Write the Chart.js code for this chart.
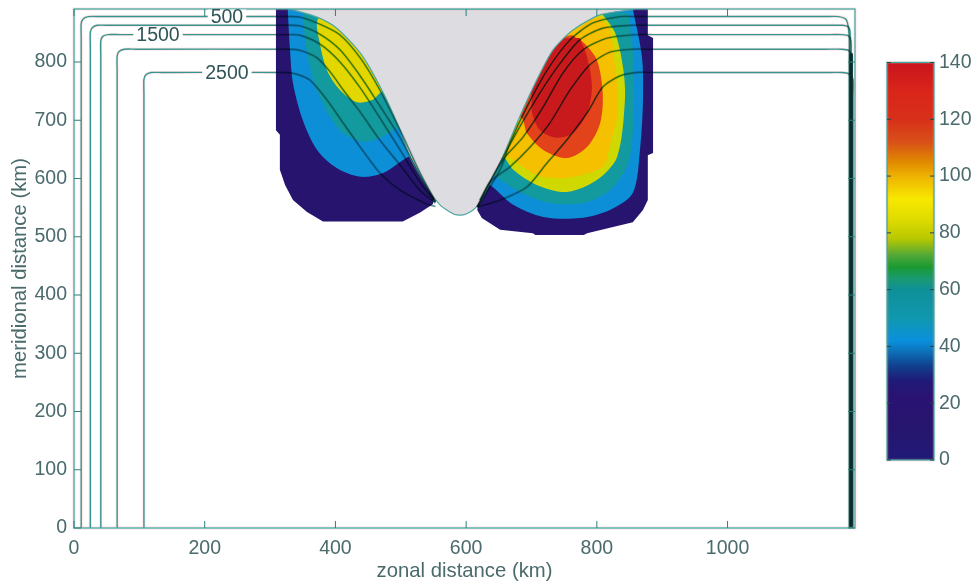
<!DOCTYPE html>
<html>
<head>
<meta charset="utf-8">
<title>meridional distance</title>
<script src="https://cdn.jsdelivr.net/npm/chart.js@4"></script>
<style>
  body { margin: 0; background: #fff; }
  #fieldChart { position: absolute; left: 0; top: 0; }
  #colorbarChart { position: absolute; left: 850px; top: 0; }
</style>
</head>
<body>
<canvas id="fieldChart" width="974" height="584"></canvas>
<canvas id="colorbarChart" width="124" height="584"></canvas>
<script>
// all shapes are [zonal km, meridional km]
const xTicks = [0, 200, 400, 600, 800, 1000];
const yTicks = [0, 100, 200, 300, 400, 500, 600, 700, 800];
const colorbarTicks = [0, 20, 40, 60, 80, 100, 120, 140];

const colorbarValues = [0, 10, 22, 28, 33, 38, 42, 50, 60, 64, 68, 72, 78, 85, 92, 100, 105, 112, 120, 130, 140];
const colorbarColors = ["#1f1a78", "#26166f", "#2a1272", "#201a78", "#103f8c", "#0d6fb8", "#0a90dc", "#1098b0", "#0f9098", "#1a9a70", "#1a9a30", "#50a838", "#b8c800", "#e0dc00", "#f8e800", "#eeb200", "#e08a00", "#d85018", "#d8301a", "#d9251a", "#c8141c"];

const leftNavy = [[309, 891], [309, 683], [315, 675], [315, 615], [323, 589], [335, 563], [356.5, 542.6], [381, 526], [503, 526], [529, 541], [549, 556], [580, 700], [450, 891]];
const leftBlue = [[327, 891], [330.5, 821], [335, 764], [350, 700.5], [372, 649], [402, 618], [438, 603], [473, 609.5], [511, 637], [525, 640], [560, 720], [450, 891]];
const leftTeal = [[350, 891], [353, 843], [361, 791], [376, 740], [407, 683], [442, 663], [468, 670], [499, 688.5], [515, 690], [540, 760], [450, 891]];
const leftYellow = [[385, 885], [372, 870], [376, 833], [387, 786], [407, 752], [433, 731], [457, 735], [471, 749], [490, 750], [520, 800], [440, 860]];

const rightNavy = [[617, 546], [624, 532], [652, 512], [702, 506], [706, 503], [780, 503], [785, 506], [855, 525], [870.6, 546], [878, 563], [878, 640], [886, 644], [886, 841], [878, 846], [878, 891], [780, 891], [640, 700]];
const rightBlue = [[855, 891], [869, 809], [870.6, 735], [866, 649], [855, 575], [820, 546], [774, 532], [718, 534], [672, 555], [636.5, 589], [621, 594], [640, 720], [740, 891]];
const rightTeal = [[848, 884], [855, 821], [857, 735], [854, 666], [846, 620], [820, 580], [779, 558], [728, 558], [682, 577], [649, 601], [633, 615], [640, 720], [740, 885]];
const rightLime = [[809, 881], [828, 850], [840, 791.5], [843, 735], [831, 637], [800, 597.5], [754, 577], [708, 589], [672, 615], [659, 635], [644, 649], [650, 720], [740, 875]];
const rightGold = [[805, 877], [820, 855], [828, 791.5], [831, 757], [831, 706], [820, 658], [809, 620], [754, 601], [708, 606], [672, 632], [652, 649], [650, 720], [730, 865]];
const rightOrange = [[762, 846.5], [779, 834], [800, 803.5], [809, 747], [805, 695], [785, 654], [754, 635], [718, 649], [693, 678], [685, 704], [660, 710], [700, 830]];
const rightRed = [[774, 841], [785, 809], [792.5, 757], [785, 712.5], [763.5, 678], [739, 670], [713, 683], [701, 712.5], [698, 749], [670, 750], [710, 840]];

const gully = [[330.5, 891], [372, 877], [402, 858], [438, 815.5], [471, 752], [499, 683], [514, 637], [540, 585.5], [560, 554.6], [575, 542.6], [586, 537.4], [600, 539], [617, 553], [636.5, 592], [656, 637], [682, 706], [708, 769], [733, 821], [763.5, 855], [805, 881], [855, 891], [330.5, 891]];

// null splits a contour where it runs into the gully edge
const contour500 = [[11, 0], [11, 840], [11, 866], [14, 874], [22, 878], [40, 878], [330, 878], [346, 877], [376, 865], [407, 846.5], [438, 807], [468, 752], [499, 683], [529, 611], [553, 560], [586, null], [617, 551], [652, 615], [667, 661], [693, 723], [724, 786], [759, 838], [794, 867], [835, 878], [860, 878], [1150, 878], [1170, 878], [1182, 872], [1186, 845], [1186, 800], [1186, 0]];
const contour1000 = [[25, 0], [25, 825], [25, 851], [28, 859], [36, 863], [55, 863], [330, 863], [346, 862], [376, 848], [407, 821], [438, 776], [468, 724.6], [499, 670], [529, 606], [553, 560], [586, null], [617, 551], [652, 627], [682, 688.5], [713, 747], [744, 798], [774, 838], [809, 858], [855, 863], [880, 863], [1150, 863], [1175, 863], [1185, 860], [1187.5, 850], [1187.5, 800], [1187.5, 0]];
const contour1500 = [[41, 0], [41, 810], [41, 836], [44, 844], [52, 847], [70, 847], [330, 847], [346, 846], [376, 831], [407, 800], [438, 755.5], [468, 704], [499, 649], [529, 594], [553, 560], [586, null], [621, 563], [656, 632], [687, 671], [718, 723], [748, 781], [779, 821], [815.5, 841], [861, 847], [885, 847], [1150, 847], [1175, 847], [1185, 845], [1189, 835], [1189, 800], [1189, 0]];
const contour2000 = [[66, 0], [66, 785], [66, 810], [69, 818], [77, 822], [95, 822], [330, 822], [346, 820], [372, 807], [392, 783], [412, 752], [438, 714], [468, 666], [499, 623], [529, 580], [553, 558], [586, null], [617, 551], [636.5, 594], [667, 620], [698, 654], [728, 695], [759, 752], [789, 795], [820, 817], [855, 822], [880, 822], [1150, 822], [1175, 822], [1185, 820], [1190.5, 810], [1190.5, 780], [1190.5, 0]];
const contour2500 = [[107, 0], [107, 745], [107, 770], [110, 778], [118, 782], [135, 782], [325, 782], [341, 779], [361, 769], [387, 735], [412, 695], [438, 654], [468, 609.5], [499, 580], [540, 556], [553, 552], [586, null], [617, 551], [652, 563], [693, 585.5], [724, 627], [754, 666], [785, 712.5], [809, 757], [835, 776], [861, 782], [885, 782], [1150, 782], [1175, 782], [1185, 780], [1192, 770], [1192, 740], [1192, 0]];

// the five contours pile up into one dark band along the east wall
const eastWall = [[1189, 815], [1189, 0]];

const contourLabels = ["500", "1500", "2500"];
const contourLabelX = [234, 128.5, 234];
const contourLabelY = [878, 847, 782];

const axisText = "#4a6a6c";
const boxTeal = "#35a8a0";
const halo = "rgba(255, 130, 130, 0.22)";
const tickFont = { family: "Liberation Sans", size: 19.5 };
const titleFont = { family: "Liberation Sans", size: 20.3 };

function toPoints(shape) {
  return shape.map((p) => ({ x: p[0], y: p[1] }));
}

function region(shape, color, tension) {
  return {
    data: toPoints(shape),
    showLine: true,
    fill: "shape",
    backgroundColor: color,
    borderWidth: 0,
    pointRadius: 0,
    tension: tension,
  };
}

function contourLine(shape, color, width, multiply) {
  return {
    data: toPoints(shape),
    showLine: true,
    spanGaps: false,
    fill: false,
    borderColor: color,
    borderWidth: width,
    pointRadius: 0,
    tension: 0.25,
    multiply: multiply,
  };
}

// listed bottom to top, chart.js paints the first dataset last so it gets reversed below
const layers = [
  region(leftNavy, "#26146e", 0),
  region(leftBlue, "#0d8fd8", 0.3),
  region(leftTeal, "#139a9e", 0.3),
  region(leftYellow, "#e2d800", 0.3),
  region(rightNavy, "#26146e", 0),
  region(rightBlue, "#0d8fd8", 0.3),
  region(rightTeal, "#139a9e", 0.3),
  region(rightLime, "#cfd800", 0.3),
  region(rightGold, "#f4c000", 0.3),
  region(rightOrange, "#e2431a", 0.3),
  region(rightRed, "#c8191c", 0.3),
];

const gullyLayer = region(gully, "#dddce0", 0.25);
gullyLayer.borderColor = "#4fa8a0";
gullyLayer.borderWidth = 1.2;
layers.push(gullyLayer);

[contour500, contour1000, contour1500, contour2000, contour2500].forEach((shape) => {
  layers.push(contourLine(shape, halo, 3, true));
  layers.push(contourLine(shape, boxTeal, 1.4, true));
});
layers.push(contourLine(eastWall, "#0b2b2b", 3.5, false));

const blendPlugin = {
  id: "blend",
  beforeDatasetDraw(chart, args) {
    if (chart.data.datasets[args.index].multiply) {
      chart.ctx.save();
      chart.ctx.globalCompositeOperation = "multiply";
    }
  },
  afterDatasetDraw(chart, args) {
    if (chart.data.datasets[args.index].multiply) {
      chart.ctx.restore();
    }
  },
};

function strokeBox(ctx, area) {
  ctx.lineWidth = 3;
  ctx.strokeStyle = halo;
  ctx.strokeRect(area.left, area.top, area.right - area.left, area.bottom - area.top);
  ctx.lineWidth = 1.2;
  ctx.strokeStyle = boxTeal;
  ctx.strokeRect(area.left, area.top, area.right - area.left, area.bottom - area.top);
}

const framePlugin = {
  id: "frame",
  afterDatasetsDraw(chart) {
    const ctx = chart.ctx;
    const area = chart.chartArea;
    const xScale = chart.scales.x;
    const yScale = chart.scales.y;

    ctx.save();
    strokeBox(ctx, area);

    // inward ticks on all four sides
    ctx.strokeStyle = "#2f7f7c";
    ctx.lineWidth = 1;
    ctx.beginPath();
    xTicks.forEach((value) => {
      const px = xScale.getPixelForValue(value);
      ctx.moveTo(px, area.bottom);
      ctx.lineTo(px, area.bottom - 7);
      ctx.moveTo(px, area.top);
      ctx.lineTo(px, area.top + 7);
    });
    yTicks.forEach((value) => {
      const py = yScale.getPixelForValue(value);
      ctx.moveTo(area.left, py);
      ctx.lineTo(area.left + 7, py);
      ctx.moveTo(area.right, py);
      ctx.lineTo(area.right - 7, py);
    });
    ctx.stroke();

    // contour labels sit in a gap of their line
    ctx.font = "19.5px 'Liberation Sans'";
    ctx.textAlign = "center";
    ctx.textBaseline = "middle";
    contourLabels.forEach((text, i) => {
      const px = xScale.getPixelForValue(contourLabelX[i]);
      const py = yScale.getPixelForValue(contourLabelY[i]);
      const w = ctx.measureText(text).width + 6;
      ctx.fillStyle = "#fff";
      ctx.fillRect(px - w / 2, py - 7, w, 14);
      ctx.fillStyle = "#2f5557";
      ctx.fillText(text, px, py + 1);
    });
    ctx.restore();
  },
};

new Chart(document.getElementById("fieldChart"), {
  type: "scatter",
  data: { datasets: layers.slice().reverse() },
  plugins: [blendPlugin, framePlugin],
  options: {
    responsive: false,
    animation: false,
    layout: { padding: { left: 0, top: 9, right: 119, bottom: 0 } },
    plugins: { legend: { display: false }, tooltip: { enabled: false } },
    scales: {
      x: {
        type: "linear",
        min: 0,
        max: 1195,
        afterFit(scale) {
          scale.height = 56;
          scale.paddingLeft = 0;
          scale.paddingRight = 0;
        },
        afterBuildTicks(scale) {
          scale.ticks = xTicks.map((value) => ({ value: value }));
        },
        grid: { display: false, drawTicks: false },
        border: { display: false },
        ticks: { color: axisText, font: tickFont, padding: 9, maxRotation: 0, autoSkip: false, callback: (value) => String(value) },
        title: {
          display: true,
          text: "zonal distance (km)",
          color: axisText,
          font: titleFont,
          padding: { top: 0, bottom: 0 },
        },
      },
      y: {
        type: "linear",
        min: 0,
        max: 891,
        afterFit(scale) {
          scale.width = 74;
          scale.paddingTop = 0;
          scale.paddingBottom = 0;
        },
        afterBuildTicks(scale) {
          scale.ticks = yTicks.map((value) => ({ value: value }));
        },
        grid: { display: false, drawTicks: false },
        border: { display: false },
        ticks: { color: axisText, font: tickFont, padding: 7, autoSkip: false, callback: (value) => String(value) },
        title: {
          display: true,
          text: "meridional distance (km)",
          color: axisText,
          font: titleFont,
          padding: { top: 8, bottom: 0 },
        },
      },
    },
  },
});

function colorbarGradient(context) {
  const chart = context.chart;
  if (!chart.chartArea) {
    return colorbarColors[0];
  }
  const yScale = chart.scales.y;
  const gradient = chart.ctx.createLinearGradient(0, yScale.getPixelForValue(0), 0, yScale.getPixelForValue(140));
  colorbarValues.forEach((value, i) => {
    gradient.addColorStop(value / 140, colorbarColors[i]);
  });
  return gradient;
}

const colorbarFrame = {
  id: "colorbarFrame",
  afterDatasetsDraw(chart) {
    const ctx = chart.ctx;
    const area = chart.chartArea;
    const yScale = chart.scales.y;

    ctx.save();
    strokeBox(ctx, area);
    ctx.strokeStyle = "#1d4a52";
    ctx.lineWidth = 1;
    ctx.beginPath();
    colorbarTicks.forEach((value) => {
      const py = yScale.getPixelForValue(value);
      ctx.moveTo(area.left, py);
      ctx.lineTo(area.left + 4, py);
      ctx.moveTo(area.right, py);
      ctx.lineTo(area.right - 4, py);
    });
    ctx.stroke();
    ctx.restore();
  },
};

new Chart(document.getElementById("colorbarChart"), {
  type: "bar",
  data: {
    labels: [""],
    datasets: [
      {
        data: [[0, 140]],
        backgroundColor: colorbarGradient,
        categoryPercentage: 1,
        barPercentage: 1,
      },
    ],
  },
  plugins: [colorbarFrame],
  options: {
    responsive: false,
    animation: false,
    layout: { padding: { left: 37, top: 62.5, right: 0, bottom: 124 } },
    plugins: { legend: { display: false }, tooltip: { enabled: false } },
    scales: {
      x: { display: false },
      y: {
        position: "right",
        min: 0,
        max: 140,
        afterFit(scale) {
          scale.width = 40;
        },
        afterBuildTicks(scale) {
          scale.ticks = colorbarTicks.map((value) => ({ value: value }));
        },
        grid: { display: false, drawTicks: false },
        border: { display: false },
        ticks: { color: axisText, font: tickFont, padding: 5, autoSkip: false },
      },
    },
  },
});
</script>
</body>
</html>
